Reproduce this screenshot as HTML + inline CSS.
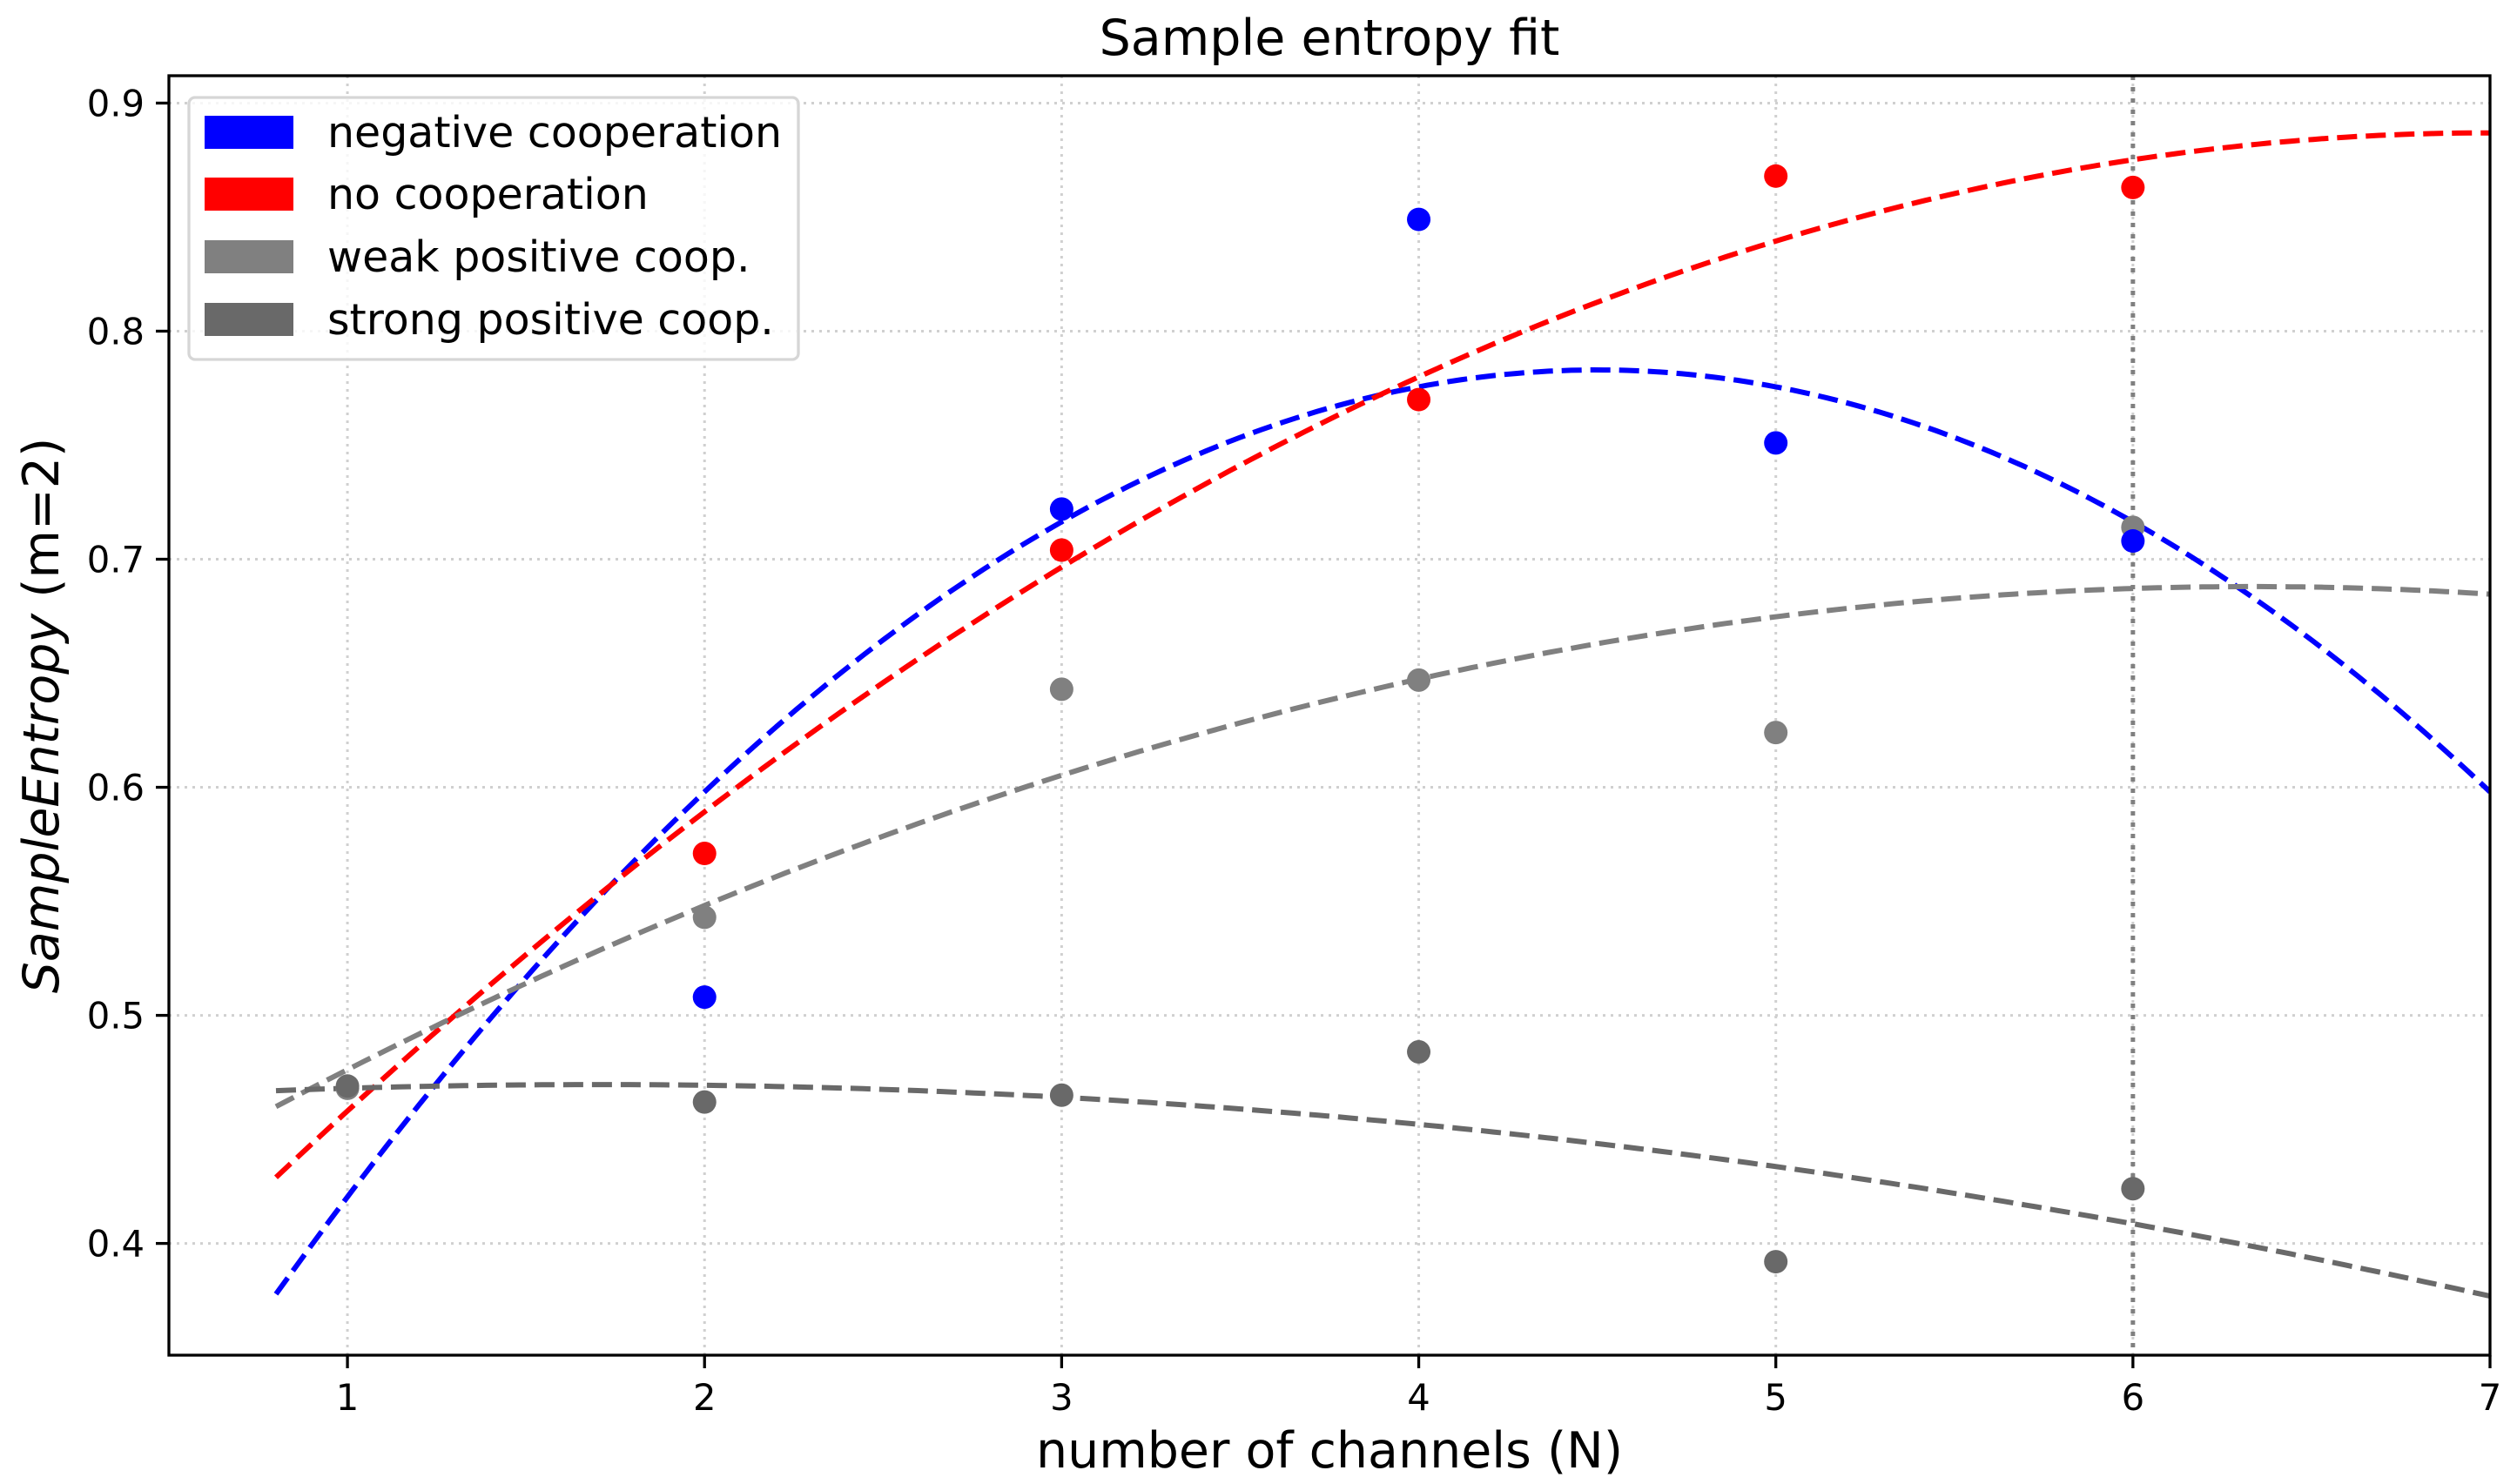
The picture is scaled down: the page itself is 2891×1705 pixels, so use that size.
<!DOCTYPE html>
<html><head><meta charset="utf-8"><title>Sample entropy fit</title>
<style>html,body{margin:0;padding:0;background:#fff;overflow:hidden}svg{display:block}text{font-family:"DejaVu Sans","Liberation Sans",sans-serif}</style>
</head><body>
<svg id="chart" width="2891" height="1705" viewBox="0 0 2891 1705" xmlns="http://www.w3.org/2000/svg">
<defs><clipPath id="plotclip"><rect x="194" y="87" width="2666" height="1470"/></clipPath></defs>
<rect width="2891" height="1705" fill="#fff"/>
<g id="grid"></g>
<g id="fits" clip-path="url(#plotclip)"></g>
<g id="points"></g>
<g id="axes"></g>
<g id="legend"></g>
</svg>
<script>
const xTicks = [1, 2, 3, 4, 5, 6, 7];
const yTicks = [0.4, 0.5, 0.6, 0.7, 0.8, 0.9];
const seriesNames = ["negative cooperation", "no cooperation", "weak positive coop.", "strong positive coop."];
const seriesColors = ["#0000ff", "#ff0000", "#808080", "#696969"];
const negX = [2, 3, 4, 5, 6];
const negY = [0.508, 0.722, 0.849, 0.751, 0.708];
const noX = [2, 3, 4, 5, 6];
const noY = [0.571, 0.704, 0.770, 0.868, 0.863];
const weakX = [1, 2, 3, 4, 5, 6];
const weakY = [0.468, 0.543, 0.643, 0.647, 0.624, 0.714];
const strongX = [1, 2, 3, 4, 5, 6];
const strongY = [0.469, 0.462, 0.465, 0.484, 0.392, 0.424];
// fitted curve coefficients [c0, c1, c2] (y = c0 + c1 x + c2 x^2)
const negFitCoef = [0.1836, 0.2664, -0.0296];
const noFitCoef = [0.3030, 0.1670, -0.01194];
const fitRange = [0.8, 7];
const markerLine = 6;

const L = 194, R = 2860, T = 87, B = 1557;
const X0 = 0.5, X1 = 7, Y0 = 0.351, Y1 = 0.912;
const sx = v => L + (v - X0) / (X1 - X0) * (R - L);
const sy = v => B - (v - Y0) / (Y1 - Y0) * (B - T);
const NS = "http://www.w3.org/2000/svg";
function mk(tag, attrs, parent) {
  const e = document.createElementNS(NS, tag);
  for (const k in attrs) e.setAttribute(k, attrs[k]);
  parent.appendChild(e);
  return e;
}
const grid = document.getElementById('grid');
const axes = document.getElementById('axes');
const fits = document.getElementById('fits');
const pts = document.getElementById('points');
const leg = document.getElementById('legend');

xTicks.forEach(t => {
  const g = mk('line', {x1: sx(t), x2: sx(t), y1: T, y2: B, stroke: '#d0d0d0', 'stroke-width': 3, 'stroke-dasharray': '3 6'}, grid);
  
  
  const tk = mk('line', {x1: sx(t), x2: sx(t), y1: B, y2: B + 15, stroke: '#000', 'stroke-width': 3.3}, axes);
  
  
  const lb = mk('text', {x: sx(t), y: B + 63, 'font-size': 41.7, 'text-anchor': 'middle', fill: '#000'}, axes);
  lb.textContent = t;
  
  
});
yTicks.forEach(t => {
  const g = mk('line', {x1: L, x2: R, y1: sy(t), y2: sy(t), stroke: '#d0d0d0', 'stroke-width': 3, 'stroke-dasharray': '3 6'}, grid);
  
  
  const tk = mk('line', {x1: L - 15, x2: L, y1: sy(t), y2: sy(t), stroke: '#000', 'stroke-width': 3.3}, axes);
  
  
  const lb = mk('text', {x: L - 28, y: sy(t) + 15, 'font-size': 41.7, 'text-anchor': 'end', fill: '#000'}, axes);
  lb.textContent = t.toFixed(1);
  
  
});

function quadFit(xs, ys) {
  let n = xs.length, S = [0,0,0,0,0], Ty = [0,0,0];
  for (let i = 0; i < n; i++) {
    let p = 1;
    for (let k = 0; k <= 4; k++) { S[k] += p; if (k <= 2) Ty[k] += p * ys[i]; p *= xs[i]; }
  }
  const M = [[S[0],S[1],S[2],Ty[0]],[S[1],S[2],S[3],Ty[1]],[S[2],S[3],S[4],Ty[2]]];
  for (let i = 0; i < 3; i++) {
    for (let j = i + 1; j < 3; j++) {
      const f = M[j][i] / M[i][i];
      for (let k = i; k < 4; k++) M[j][k] -= f * M[i][k];
    }
  }
  const c = [0,0,0];
  for (let i = 2; i >= 0; i--) {
    let s = M[i][3];
    for (let k = i + 1; k < 3; k++) s -= M[i][k] * c[k];
    c[i] = s / M[i][i];
  }
  return c;
}
const allX = [negX, noX, weakX, strongX];
const allY = [negY, noY, weakY, strongY];
const coefs = [negFitCoef, noFitCoef, quadFit(weakX, weakY), quadFit(strongX, strongY)];
const fitNames = ['negative-fit-curve', 'no-coop-fit-curve', 'weak-fit-curve', 'strong-fit-curve'];
const ptNames = ['negative-point', 'no-coop-point', 'weak-point', 'strong-point'];

const vl = mk('line', {x1: sx(markerLine), x2: sx(markerLine), y1: T, y2: B, stroke: '#808080', 'stroke-width': 5, 'stroke-dasharray': '5 8'}, fits);



for (let s = 0; s < 4; s++) {
  const c = coefs[s];
  const f = x => c[0] + c[1] * x + c[2] * x * x;
  let d = '';
  for (let i = 0; i <= 200; i++) {
    const x = fitRange[0] + (fitRange[1] - fitRange[0]) * i / 200;
    d += (i ? 'L' : 'M') + sx(x).toFixed(1) + ' ' + sy(f(x)).toFixed(1);
  }
  const p = mk('path', {d: d, fill: 'none', stroke: seriesColors[s], 'stroke-width': 6, 'stroke-dasharray': '23 10'}, fits);
  
  
}
[2, 3, 1, 0].forEach(s => {
  allX[s].forEach((x, i) => {
    const c = mk('circle', {cx: sx(x), cy: sy(allY[s][i]), r: 13.5, fill: seriesColors[s]}, pts);
    
    
  });
});

const frame = mk('rect', {x: L, y: T, width: R - L, height: B - T, fill: 'none', stroke: '#000', 'stroke-width': 3.3}, axes);



const box = mk('rect', {x: 217, y: 112, width: 700, height: 301, rx: 7, fill: '#fff', 'fill-opacity': 0.8, stroke: '#d6d6d6', 'stroke-width': 3.3}, leg);


const rowY = [152, 223, 295, 367];
seriesNames.forEach((n, i) => {
  const r = mk('rect', {x: 235, y: rowY[i] - 19, width: 102, height: 38, fill: seriesColors[i]}, leg);
  
  
  const t = mk('text', {x: 376, y: rowY[i] + 17, 'font-size': 49, fill: '#000'}, leg);
  t.textContent = n;
  
  
});
</script>
<svg style="position:absolute;left:0;top:0" width="2891" height="1705" xmlns="http://www.w3.org/2000/svg">
<text x="1527" y="63" font-size="57" text-anchor="middle" font-family="DejaVu Sans, Liberation Sans, sans-serif">Sample entropy fit</text>
<text x="1527" y="1686" font-size="57" text-anchor="middle" font-family="DejaVu Sans, Liberation Sans, sans-serif">number of channels (N)</text>
<text x="0" y="0" font-size="57" text-anchor="middle" transform="translate(67 822) rotate(-90)" font-family="DejaVu Sans, Liberation Sans, sans-serif"><tspan font-style="italic">SampleEntropy</tspan> (m=2)</text>
</svg>
</body></html>
